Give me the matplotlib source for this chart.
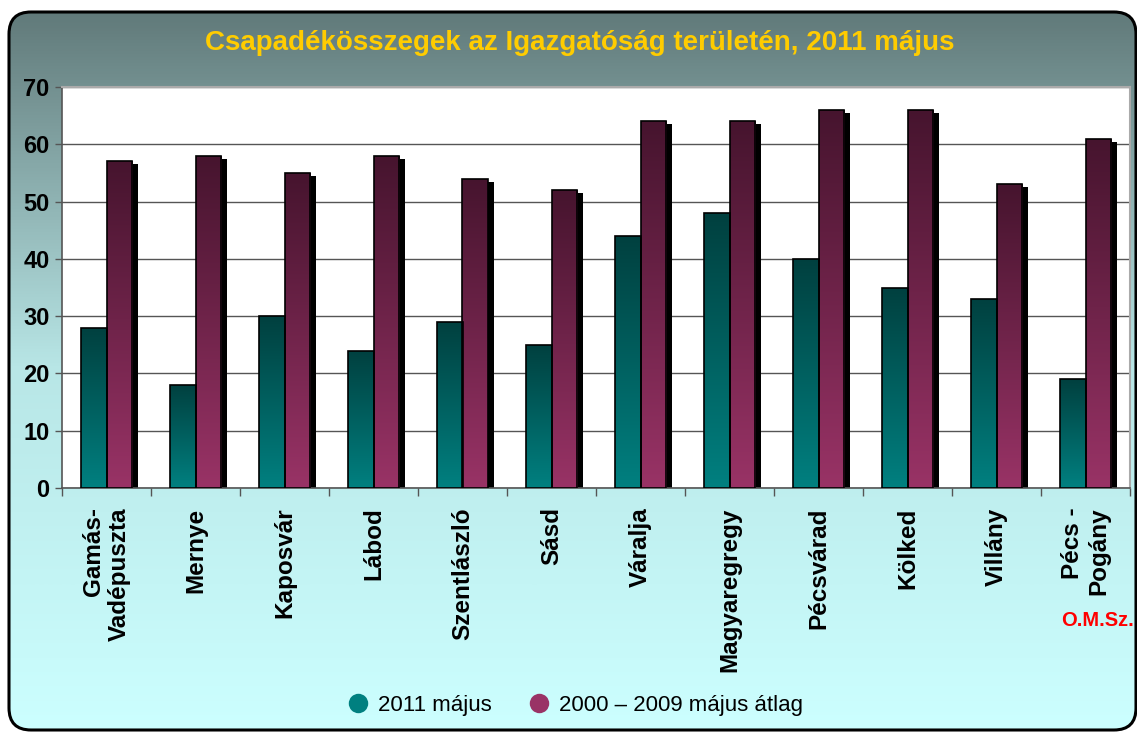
import numpy as np
import matplotlib
matplotlib.use('Agg')
import matplotlib.pyplot as plt
from matplotlib.patches import FancyBboxPatch
from matplotlib.lines import Line2D
from matplotlib.colors import LinearSegmentedColormap
import matplotlib.transforms as mtransforms

plt.rcParams['font.family'] = ['Liberation Sans', 'DejaVu Sans']

# ---------------- data ----------------
stations = ["Gamás-\nVadépuszta", "Mernye", "Kaposvár", "Lábod", "Szentlászló",
            "Sásd", "Váralja", "Magyaregregy", "Pécsvárad", "Kölked", "Villány",
            "Pécs -\nPogány"]
may_2011 = [28, 18, 30, 24, 29, 25, 44, 48, 40, 35, 33, 19]
may_avg = [57, 58, 55, 58, 54, 52, 64, 64, 66, 66, 53, 61]
series_names = ["2011 május", "2000 – 2009 május átlag"]
y_ticks = [0, 10, 20, 30, 40, 50, 60, 70]
title_text = "Csapadékösszegek az Igazgatóság területén, 2011 május"
source_text = "O.M.Sz."

# ---------------- style ----------------
W, H = 1137, 732
fig = plt.figure(figsize=(W / 100, H / 100), dpi=100)
fig.patch.set_facecolor('white')

# background panel with gradient and rounded border (pixel coordinates)
bg = fig.add_axes([0, 0, 1, 1], zorder=-10)
bg.set_axis_off()
bg.set_xlim(0, W)
bg.set_ylim(0, H)
grad = np.linspace(0, 1, 512).reshape(-1, 1)
cmap_bg = LinearSegmentedColormap.from_list('bg', ['#ccffff', '#b8e6e6', '#5e7676'])
box = FancyBboxPatch((9, 2), W - 10, H - 14,
                     boxstyle='round,pad=0,rounding_size=22',
                     facecolor='none', edgecolor='black', linewidth=2.2, zorder=3)
bg.add_patch(box)
im = bg.imshow(grad, aspect='auto', cmap=cmap_bg, extent=[0, W, 0, H],
               origin='lower', zorder=1)
im.set_clip_path(box)

fig.text(580 / W, 1 - 43 / H, title_text, ha='center', va='center',
         color='#ffcc00', fontsize=20, fontweight='bold')

ax = fig.add_axes([62 / W, 1 - 488 / H, (1130 - 62) / W, (488 - 87) / H])
ax.set_facecolor('white')

n = len(stations)
x = np.arange(n)
bw = 0.29
teal_cmap = LinearSegmentedColormap.from_list('teal', ['#008080', '#00403f'])
mar_cmap = LinearSegmentedColormap.from_list('mar', ['#993366', '#46142e'])

shadow_tr = ax.transData + mtransforms.ScaledTranslation(6 / 100, -3 / 100, fig.dpi_scale_trans)

for vals, offs, cmap in [(may_2011, -bw / 2, teal_cmap), (may_avg, bw / 2, mar_cmap)]:
    shadows = ax.bar(x + offs, vals, width=bw, color='black', zorder=2)
    for s in shadows:
        s.set_transform(shadow_tr)
    bars = ax.bar(x + offs, vals, width=bw, facecolor='none', edgecolor='black',
                  linewidth=1.2, zorder=4)
    for b in bars:
        x0, y0 = b.get_x(), b.get_y()
        x1, y1 = x0 + b.get_width(), y0 + b.get_height()
        g = ax.imshow(grad, aspect='auto', cmap=cmap, extent=[x0, x1, y0, y1],
                      origin='lower', zorder=3)
        g.set_clip_path(b)

ax.set_xlim(-0.5, n - 0.5)
ax.set_ylim(0, 70)
ax.set_yticks(y_ticks)
ax.set_yticklabels([str(v) for v in y_ticks], fontsize=17, fontweight='bold')
ax.yaxis.grid(True, color='#555555', linewidth=1.0)
ax.set_axisbelow(True)
ax.tick_params(axis='y', length=5, width=1, color='#555555', pad=4)

ax.set_xticks(x)
ax.set_xticklabels(stations, rotation=90, fontsize=17.5, fontweight='bold',
                   ha='center', va='top', multialignment='right')
ax.tick_params(axis='x', which='major', length=0, pad=14)
ax.set_xticks(np.arange(n + 1) - 0.5, minor=True)
ax.tick_params(axis='x', which='minor', length=6, width=1, color='#555555')

for side in ['left', 'bottom']:
    ax.spines[side].set_color('#555555')
    ax.spines[side].set_linewidth(1.2)
for side in ['top', 'right']:
    ax.spines[side].set_color('#aaaaaa')
    ax.spines[side].set_linewidth(1.5)

fig.text(1097 / W, 1 - 620 / H, source_text, ha='center', va='center',
         color='#ff0000', fontsize=14.5, fontweight='bold')

handles = [Line2D([], [], marker='o', linestyle='none', markersize=14,
                  markerfacecolor='#008080', markeredgecolor='none'),
           Line2D([], [], marker='o', linestyle='none', markersize=14,
                  markerfacecolor='#993366', markeredgecolor='none')]
fig.legend(handles, series_names, loc='center', bbox_to_anchor=(575 / W, 1 - 705 / H),
           ncol=2, frameon=False, fontsize=16, handletextpad=0.4, columnspacing=1.6,
           handlelength=1.0)

fig.savefig('out.png', dpi=100, facecolor=fig.get_facecolor())
